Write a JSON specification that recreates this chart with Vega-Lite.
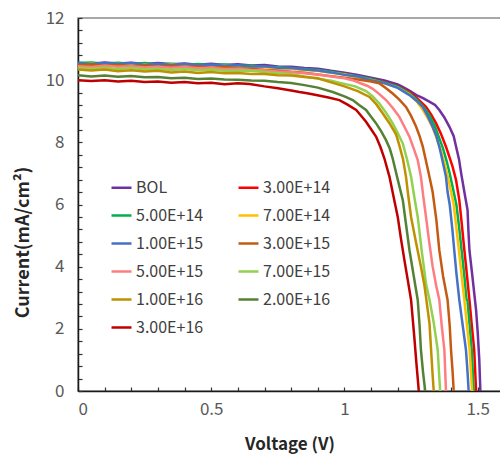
{
"$schema": "https://vega.github.io/schema/vega-lite/v6.json",
"width": 423, "height": 373,
"autosize": {"type": "none"},
"padding": {"left": 78, "top": 18, "right": 0, "bottom": 68},
"background": "white",
"config": {
 "view": {"stroke": "#8c8c8c", "strokeWidth": 1.5},
 "font": "Noto Sans CJK JP",
 "axis": {"grid": false, "domainColor": "#1a1a1a", "domainWidth": 1.5, "tickColor": "#333333", "tickWidth": 1.2, "tickSize": -4, "labelColor": "#595959", "labelFontSize": 17, "labelOverlap": false, "titleFontSize": 17, "titleFontWeight": "bold", "titleColor": "#262626"},
 "legend": {"orient": "none", "direction": "horizontal", "legendX": 32, "legendY": 158, "columns": 2, "columnPadding": 29, "rowPadding": 8, "symbolType": "stroke", "symbolSize": 400, "symbolStrokeWidth": 2.5, "labelFontSize": 16, "labelColor": "#404040", "labelOffset": 3, "title": null}
},
"data": {"values": [
{"s":"BOL","v":0,"i":10.56},{"s":"BOL","v":0.05,"i":10.53},{"s":"BOL","v":0.1,"i":10.57},{"s":"BOL","v":0.15,"i":10.54},{"s":"BOL","v":0.2,"i":10.56},{"s":"BOL","v":0.25,"i":10.52},{"s":"BOL","v":0.3,"i":10.55},{"s":"BOL","v":0.35,"i":10.51},{"s":"BOL","v":0.4,"i":10.54},{"s":"BOL","v":0.45,"i":10.5},{"s":"BOL","v":0.5,"i":10.53},{"s":"BOL","v":0.55,"i":10.49},{"s":"BOL","v":0.6,"i":10.51},{"s":"BOL","v":0.65,"i":10.47},{"s":"BOL","v":0.7,"i":10.49},{"s":"BOL","v":0.75,"i":10.44},{"s":"BOL","v":0.8,"i":10.43},{"s":"BOL","v":0.85,"i":10.39},{"s":"BOL","v":0.9,"i":10.37},{"s":"BOL","v":0.95,"i":10.3},{"s":"BOL","v":1.0,"i":10.24},{"s":"BOL","v":1.05,"i":10.17},{"s":"BOL","v":1.1,"i":10.08},{"s":"BOL","v":1.15,"i":9.99},{"s":"BOL","v":1.2,"i":9.86},{"s":"BOL","v":1.22,"i":9.78},{"s":"BOL","v":1.245,"i":9.66},{"s":"BOL","v":1.27,"i":9.52},{"s":"BOL","v":1.295,"i":9.42},{"s":"BOL","v":1.32,"i":9.3},{"s":"BOL","v":1.34,"i":9.2},{"s":"BOL","v":1.356,"i":9.04},{"s":"BOL","v":1.375,"i":8.8},{"s":"BOL","v":1.394,"i":8.5},{"s":"BOL","v":1.41,"i":8.2},{"s":"BOL","v":1.419,"i":7.86},{"s":"BOL","v":1.43,"i":7.45},{"s":"BOL","v":1.438,"i":7.0},{"s":"BOL","v":1.45,"i":6.4},{"s":"BOL","v":1.462,"i":5.82},{"s":"BOL","v":1.465,"i":5.2},{"s":"BOL","v":1.469,"i":4.53},{"s":"BOL","v":1.48,"i":3.7},{"s":"BOL","v":1.494,"i":2.6},{"s":"BOL","v":1.5,"i":1.9},{"s":"BOL","v":1.506,"i":1.0},{"s":"BOL","v":1.51,"i":0},
{"s":"3.00E+14","v":0,"i":10.52},{"s":"3.00E+14","v":0.05,"i":10.5},{"s":"3.00E+14","v":0.1,"i":10.53},{"s":"3.00E+14","v":0.15,"i":10.49},{"s":"3.00E+14","v":0.2,"i":10.52},{"s":"3.00E+14","v":0.25,"i":10.5},{"s":"3.00E+14","v":0.3,"i":10.51},{"s":"3.00E+14","v":0.35,"i":10.48},{"s":"3.00E+14","v":0.4,"i":10.5},{"s":"3.00E+14","v":0.45,"i":10.47},{"s":"3.00E+14","v":0.5,"i":10.49},{"s":"3.00E+14","v":0.55,"i":10.45},{"s":"3.00E+14","v":0.6,"i":10.47},{"s":"3.00E+14","v":0.65,"i":10.43},{"s":"3.00E+14","v":0.7,"i":10.44},{"s":"3.00E+14","v":0.75,"i":10.4},{"s":"3.00E+14","v":0.8,"i":10.38},{"s":"3.00E+14","v":0.85,"i":10.35},{"s":"3.00E+14","v":0.9,"i":10.31},{"s":"3.00E+14","v":0.95,"i":10.26},{"s":"3.00E+14","v":1.0,"i":10.2},{"s":"3.00E+14","v":1.05,"i":10.12},{"s":"3.00E+14","v":1.1,"i":10.04},{"s":"3.00E+14","v":1.15,"i":9.94},{"s":"3.00E+14","v":1.2,"i":9.8},{"s":"3.00E+14","v":1.244,"i":9.62},{"s":"3.00E+14","v":1.275,"i":9.4},{"s":"3.00E+14","v":1.306,"i":9.14},{"s":"3.00E+14","v":1.325,"i":8.9},{"s":"3.00E+14","v":1.344,"i":8.61},{"s":"3.00E+14","v":1.362,"i":8.28},{"s":"3.00E+14","v":1.381,"i":7.86},{"s":"3.00E+14","v":1.395,"i":7.5},{"s":"3.00E+14","v":1.406,"i":7.21},{"s":"3.00E+14","v":1.419,"i":6.78},{"s":"3.00E+14","v":1.431,"i":6.14},{"s":"3.00E+14","v":1.44,"i":5.4},{"s":"3.00E+14","v":1.45,"i":4.53},{"s":"3.00E+14","v":1.46,"i":3.7},{"s":"3.00E+14","v":1.469,"i":2.93},{"s":"3.00E+14","v":1.478,"i":2.1},{"s":"3.00E+14","v":1.487,"i":1.32},{"s":"3.00E+14","v":1.494,"i":0},
{"s":"5.00E+14","v":0,"i":10.55},{"s":"5.00E+14","v":0.05,"i":10.57},{"s":"5.00E+14","v":0.1,"i":10.53},{"s":"5.00E+14","v":0.15,"i":10.56},{"s":"5.00E+14","v":0.2,"i":10.52},{"s":"5.00E+14","v":0.25,"i":10.55},{"s":"5.00E+14","v":0.3,"i":10.51},{"s":"5.00E+14","v":0.35,"i":10.53},{"s":"5.00E+14","v":0.4,"i":10.49},{"s":"5.00E+14","v":0.45,"i":10.52},{"s":"5.00E+14","v":0.5,"i":10.48},{"s":"5.00E+14","v":0.55,"i":10.5},{"s":"5.00E+14","v":0.6,"i":10.46},{"s":"5.00E+14","v":0.65,"i":10.47},{"s":"5.00E+14","v":0.7,"i":10.43},{"s":"5.00E+14","v":0.75,"i":10.42},{"s":"5.00E+14","v":0.8,"i":10.39},{"s":"5.00E+14","v":0.85,"i":10.36},{"s":"5.00E+14","v":0.9,"i":10.33},{"s":"5.00E+14","v":0.95,"i":10.27},{"s":"5.00E+14","v":1.0,"i":10.2},{"s":"5.00E+14","v":1.05,"i":10.13},{"s":"5.00E+14","v":1.1,"i":10.04},{"s":"5.00E+14","v":1.15,"i":9.93},{"s":"5.00E+14","v":1.2,"i":9.79},{"s":"5.00E+14","v":1.244,"i":9.58},{"s":"5.00E+14","v":1.27,"i":9.38},{"s":"5.00E+14","v":1.3,"i":9.1},{"s":"5.00E+14","v":1.32,"i":8.85},{"s":"5.00E+14","v":1.34,"i":8.5},{"s":"5.00E+14","v":1.355,"i":8.15},{"s":"5.00E+14","v":1.37,"i":7.8},{"s":"5.00E+14","v":1.385,"i":7.35},{"s":"5.00E+14","v":1.395,"i":7.0},{"s":"5.00E+14","v":1.41,"i":6.4},{"s":"5.00E+14","v":1.42,"i":6.0},{"s":"5.00E+14","v":1.43,"i":5.3},{"s":"5.00E+14","v":1.44,"i":4.5},{"s":"5.00E+14","v":1.45,"i":3.7},{"s":"5.00E+14","v":1.458,"i":2.95},{"s":"5.00E+14","v":1.462,"i":2.9},{"s":"5.00E+14","v":1.47,"i":2.1},{"s":"5.00E+14","v":1.478,"i":1.3},{"s":"5.00E+14","v":1.485,"i":0},
{"s":"7.00E+14","v":0,"i":10.5},{"s":"7.00E+14","v":0.05,"i":10.53},{"s":"7.00E+14","v":0.1,"i":10.49},{"s":"7.00E+14","v":0.15,"i":10.52},{"s":"7.00E+14","v":0.2,"i":10.48},{"s":"7.00E+14","v":0.25,"i":10.51},{"s":"7.00E+14","v":0.3,"i":10.47},{"s":"7.00E+14","v":0.35,"i":10.5},{"s":"7.00E+14","v":0.4,"i":10.46},{"s":"7.00E+14","v":0.45,"i":10.48},{"s":"7.00E+14","v":0.5,"i":10.45},{"s":"7.00E+14","v":0.55,"i":10.47},{"s":"7.00E+14","v":0.6,"i":10.43},{"s":"7.00E+14","v":0.65,"i":10.44},{"s":"7.00E+14","v":0.7,"i":10.41},{"s":"7.00E+14","v":0.75,"i":10.39},{"s":"7.00E+14","v":0.8,"i":10.37},{"s":"7.00E+14","v":0.85,"i":10.33},{"s":"7.00E+14","v":0.9,"i":10.3},{"s":"7.00E+14","v":0.95,"i":10.24},{"s":"7.00E+14","v":1.0,"i":10.18},{"s":"7.00E+14","v":1.05,"i":10.1},{"s":"7.00E+14","v":1.1,"i":10.01},{"s":"7.00E+14","v":1.15,"i":9.9},{"s":"7.00E+14","v":1.2,"i":9.76},{"s":"7.00E+14","v":1.244,"i":9.55},{"s":"7.00E+14","v":1.27,"i":9.33},{"s":"7.00E+14","v":1.29,"i":9.1},{"s":"7.00E+14","v":1.31,"i":8.82},{"s":"7.00E+14","v":1.33,"i":8.5},{"s":"7.00E+14","v":1.345,"i":8.15},{"s":"7.00E+14","v":1.36,"i":7.8},{"s":"7.00E+14","v":1.373,"i":7.4},{"s":"7.00E+14","v":1.385,"i":7.0},{"s":"7.00E+14","v":1.398,"i":6.5},{"s":"7.00E+14","v":1.41,"i":6.0},{"s":"7.00E+14","v":1.42,"i":5.25},{"s":"7.00E+14","v":1.43,"i":4.5},{"s":"7.00E+14","v":1.44,"i":3.7},{"s":"7.00E+14","v":1.45,"i":2.93},{"s":"7.00E+14","v":1.46,"i":2.1},{"s":"7.00E+14","v":1.47,"i":1.3},{"s":"7.00E+14","v":1.479,"i":0},
{"s":"1.00E+15","v":0,"i":10.54},{"s":"1.00E+15","v":0.05,"i":10.51},{"s":"1.00E+15","v":0.1,"i":10.55},{"s":"1.00E+15","v":0.15,"i":10.52},{"s":"1.00E+15","v":0.2,"i":10.55},{"s":"1.00E+15","v":0.25,"i":10.5},{"s":"1.00E+15","v":0.3,"i":10.53},{"s":"1.00E+15","v":0.35,"i":10.49},{"s":"1.00E+15","v":0.4,"i":10.52},{"s":"1.00E+15","v":0.45,"i":10.48},{"s":"1.00E+15","v":0.5,"i":10.5},{"s":"1.00E+15","v":0.55,"i":10.46},{"s":"1.00E+15","v":0.6,"i":10.48},{"s":"1.00E+15","v":0.65,"i":10.44},{"s":"1.00E+15","v":0.7,"i":10.45},{"s":"1.00E+15","v":0.75,"i":10.4},{"s":"1.00E+15","v":0.8,"i":10.39},{"s":"1.00E+15","v":0.85,"i":10.34},{"s":"1.00E+15","v":0.9,"i":10.31},{"s":"1.00E+15","v":0.95,"i":10.25},{"s":"1.00E+15","v":1.0,"i":10.17},{"s":"1.00E+15","v":1.05,"i":10.12},{"s":"1.00E+15","v":1.1,"i":10.0},{"s":"1.00E+15","v":1.15,"i":9.91},{"s":"1.00E+15","v":1.2,"i":9.75},{"s":"1.00E+15","v":1.244,"i":9.52},{"s":"1.00E+15","v":1.27,"i":9.34},{"s":"1.00E+15","v":1.294,"i":9.14},{"s":"1.00E+15","v":1.312,"i":8.85},{"s":"1.00E+15","v":1.331,"i":8.5},{"s":"1.00E+15","v":1.345,"i":8.2},{"s":"1.00E+15","v":1.356,"i":7.86},{"s":"1.00E+15","v":1.363,"i":7.6},{"s":"1.00E+15","v":1.372,"i":7.25},{"s":"1.00E+15","v":1.381,"i":6.89},{"s":"1.00E+15","v":1.387,"i":6.4},{"s":"1.00E+15","v":1.395,"i":6.0},{"s":"1.00E+15","v":1.405,"i":5.2},{"s":"1.00E+15","v":1.412,"i":4.53},{"s":"1.00E+15","v":1.42,"i":3.8},{"s":"1.00E+15","v":1.431,"i":2.93},{"s":"1.00E+15","v":1.444,"i":2.1},{"s":"1.00E+15","v":1.456,"i":1.32},{"s":"1.00E+15","v":1.462,"i":0.6},{"s":"1.00E+15","v":1.466,"i":0},
{"s":"3.00E+15","v":0,"i":10.48},{"s":"3.00E+15","v":0.05,"i":10.5},{"s":"3.00E+15","v":0.1,"i":10.46},{"s":"3.00E+15","v":0.15,"i":10.49},{"s":"3.00E+15","v":0.2,"i":10.45},{"s":"3.00E+15","v":0.25,"i":10.47},{"s":"3.00E+15","v":0.3,"i":10.44},{"s":"3.00E+15","v":0.35,"i":10.46},{"s":"3.00E+15","v":0.4,"i":10.42},{"s":"3.00E+15","v":0.45,"i":10.44},{"s":"3.00E+15","v":0.5,"i":10.4},{"s":"3.00E+15","v":0.55,"i":10.42},{"s":"3.00E+15","v":0.6,"i":10.38},{"s":"3.00E+15","v":0.65,"i":10.37},{"s":"3.00E+15","v":0.7,"i":10.33},{"s":"3.00E+15","v":0.75,"i":10.31},{"s":"3.00E+15","v":0.8,"i":10.27},{"s":"3.00E+15","v":0.85,"i":10.24},{"s":"3.00E+15","v":0.9,"i":10.18},{"s":"3.00E+15","v":0.95,"i":10.13},{"s":"3.00E+15","v":1.0,"i":10.08},{"s":"3.00E+15","v":1.05,"i":10.02},{"s":"3.00E+15","v":1.1,"i":9.96},{"s":"3.00E+15","v":1.13,"i":9.9},{"s":"3.00E+15","v":1.155,"i":9.75},{"s":"3.00E+15","v":1.181,"i":9.57},{"s":"3.00E+15","v":1.205,"i":9.38},{"s":"3.00E+15","v":1.231,"i":9.14},{"s":"3.00E+15","v":1.25,"i":8.85},{"s":"3.00E+15","v":1.269,"i":8.5},{"s":"3.00E+15","v":1.282,"i":8.2},{"s":"3.00E+15","v":1.294,"i":7.86},{"s":"3.00E+15","v":1.306,"i":7.4},{"s":"3.00E+15","v":1.319,"i":6.89},{"s":"3.00E+15","v":1.331,"i":6.4},{"s":"3.00E+15","v":1.345,"i":5.5},{"s":"3.00E+15","v":1.356,"i":4.53},{"s":"3.00E+15","v":1.37,"i":3.7},{"s":"3.00E+15","v":1.387,"i":2.93},{"s":"3.00E+15","v":1.395,"i":2.1},{"s":"3.00E+15","v":1.4,"i":1.32},{"s":"3.00E+15","v":1.406,"i":0.6},{"s":"3.00E+15","v":1.41,"i":0},
{"s":"5.00E+15","v":0,"i":10.45},{"s":"5.00E+15","v":0.05,"i":10.42},{"s":"5.00E+15","v":0.1,"i":10.46},{"s":"5.00E+15","v":0.15,"i":10.43},{"s":"5.00E+15","v":0.2,"i":10.45},{"s":"5.00E+15","v":0.25,"i":10.41},{"s":"5.00E+15","v":0.3,"i":10.43},{"s":"5.00E+15","v":0.35,"i":10.4},{"s":"5.00E+15","v":0.4,"i":10.42},{"s":"5.00E+15","v":0.45,"i":10.38},{"s":"5.00E+15","v":0.5,"i":10.4},{"s":"5.00E+15","v":0.55,"i":10.36},{"s":"5.00E+15","v":0.6,"i":10.37},{"s":"5.00E+15","v":0.65,"i":10.33},{"s":"5.00E+15","v":0.7,"i":10.32},{"s":"5.00E+15","v":0.75,"i":10.28},{"s":"5.00E+15","v":0.8,"i":10.26},{"s":"5.00E+15","v":0.85,"i":10.22},{"s":"5.00E+15","v":0.9,"i":10.18},{"s":"5.00E+15","v":0.95,"i":10.12},{"s":"5.00E+15","v":1.0,"i":10.06},{"s":"5.00E+15","v":1.03,"i":10.0},{"s":"5.00E+15","v":1.06,"i":9.9},{"s":"5.00E+15","v":1.085,"i":9.82},{"s":"5.00E+15","v":1.106,"i":9.72},{"s":"5.00E+15","v":1.13,"i":9.56},{"s":"5.00E+15","v":1.156,"i":9.36},{"s":"5.00E+15","v":1.18,"i":9.12},{"s":"5.00E+15","v":1.206,"i":8.82},{"s":"5.00E+15","v":1.225,"i":8.5},{"s":"5.00E+15","v":1.244,"i":8.18},{"s":"5.00E+15","v":1.26,"i":7.8},{"s":"5.00E+15","v":1.275,"i":7.43},{"s":"5.00E+15","v":1.287,"i":6.89},{"s":"5.00E+15","v":1.296,"i":6.25},{"s":"5.00E+15","v":1.306,"i":5.6},{"s":"5.00E+15","v":1.318,"i":4.8},{"s":"5.00E+15","v":1.331,"i":4.0},{"s":"5.00E+15","v":1.344,"i":3.4},{"s":"5.00E+15","v":1.356,"i":2.93},{"s":"5.00E+15","v":1.365,"i":2.1},{"s":"5.00E+15","v":1.375,"i":1.32},{"s":"5.00E+15","v":1.381,"i":0},
{"s":"7.00E+15","v":0,"i":10.4},{"s":"7.00E+15","v":0.05,"i":10.37},{"s":"7.00E+15","v":0.1,"i":10.4},{"s":"7.00E+15","v":0.15,"i":10.36},{"s":"7.00E+15","v":0.2,"i":10.39},{"s":"7.00E+15","v":0.25,"i":10.35},{"s":"7.00E+15","v":0.3,"i":10.37},{"s":"7.00E+15","v":0.35,"i":10.33},{"s":"7.00E+15","v":0.4,"i":10.36},{"s":"7.00E+15","v":0.45,"i":10.32},{"s":"7.00E+15","v":0.5,"i":10.34},{"s":"7.00E+15","v":0.55,"i":10.3},{"s":"7.00E+15","v":0.6,"i":10.31},{"s":"7.00E+15","v":0.65,"i":10.3},{"s":"7.00E+15","v":0.7,"i":10.26},{"s":"7.00E+15","v":0.75,"i":10.22},{"s":"7.00E+15","v":0.8,"i":10.19},{"s":"7.00E+15","v":0.85,"i":10.12},{"s":"7.00E+15","v":0.9,"i":10.05},{"s":"7.00E+15","v":0.95,"i":9.98},{"s":"7.00E+15","v":1.0,"i":9.88},{"s":"7.00E+15","v":1.04,"i":9.8},{"s":"7.00E+15","v":1.081,"i":9.65},{"s":"7.00E+15","v":1.106,"i":9.48},{"s":"7.00E+15","v":1.131,"i":9.25},{"s":"7.00E+15","v":1.156,"i":8.95},{"s":"7.00E+15","v":1.181,"i":8.61},{"s":"7.00E+15","v":1.2,"i":8.3},{"s":"7.00E+15","v":1.219,"i":7.96},{"s":"7.00E+15","v":1.235,"i":7.45},{"s":"7.00E+15","v":1.25,"i":6.89},{"s":"7.00E+15","v":1.262,"i":6.25},{"s":"7.00E+15","v":1.275,"i":5.6},{"s":"7.00E+15","v":1.29,"i":4.5},{"s":"7.00E+15","v":1.306,"i":3.46},{"s":"7.00E+15","v":1.32,"i":2.9},{"s":"7.00E+15","v":1.335,"i":2.2},{"s":"7.00E+15","v":1.35,"i":1.32},{"s":"7.00E+15","v":1.359,"i":0},
{"s":"1.00E+16","v":0,"i":10.34},{"s":"1.00E+16","v":0.05,"i":10.31},{"s":"1.00E+16","v":0.1,"i":10.34},{"s":"1.00E+16","v":0.15,"i":10.29},{"s":"1.00E+16","v":0.2,"i":10.32},{"s":"1.00E+16","v":0.25,"i":10.28},{"s":"1.00E+16","v":0.3,"i":10.3},{"s":"1.00E+16","v":0.35,"i":10.25},{"s":"1.00E+16","v":0.4,"i":10.28},{"s":"1.00E+16","v":0.45,"i":10.23},{"s":"1.00E+16","v":0.5,"i":10.26},{"s":"1.00E+16","v":0.55,"i":10.22},{"s":"1.00E+16","v":0.6,"i":10.23},{"s":"1.00E+16","v":0.65,"i":10.2},{"s":"1.00E+16","v":0.7,"i":10.2},{"s":"1.00E+16","v":0.75,"i":10.16},{"s":"1.00E+16","v":0.8,"i":10.15},{"s":"1.00E+16","v":0.85,"i":10.1},{"s":"1.00E+16","v":0.9,"i":10.06},{"s":"1.00E+16","v":0.95,"i":9.93},{"s":"1.00E+16","v":1.0,"i":9.8},{"s":"1.00E+16","v":1.05,"i":9.65},{"s":"1.00E+16","v":1.094,"i":9.46},{"s":"1.00E+16","v":1.12,"i":9.22},{"s":"1.00E+16","v":1.144,"i":8.93},{"s":"1.00E+16","v":1.17,"i":8.6},{"s":"1.00E+16","v":1.194,"i":8.25},{"s":"1.00E+16","v":1.206,"i":7.9},{"s":"1.00E+16","v":1.22,"i":7.45},{"s":"1.00E+16","v":1.231,"i":6.89},{"s":"1.00E+16","v":1.24,"i":6.25},{"s":"1.00E+16","v":1.25,"i":5.6},{"s":"1.00E+16","v":1.268,"i":4.8},{"s":"1.00E+16","v":1.287,"i":4.0},{"s":"1.00E+16","v":1.3,"i":3.4},{"s":"1.00E+16","v":1.306,"i":3.03},{"s":"1.00E+16","v":1.319,"i":2.18},{"s":"1.00E+16","v":1.326,"i":1.2},{"s":"1.00E+16","v":1.331,"i":0.5},{"s":"1.00E+16","v":1.335,"i":0},
{"s":"2.00E+16","v":0,"i":10.16},{"s":"2.00E+16","v":0.05,"i":10.12},{"s":"2.00E+16","v":0.1,"i":10.15},{"s":"2.00E+16","v":0.15,"i":10.11},{"s":"2.00E+16","v":0.2,"i":10.13},{"s":"2.00E+16","v":0.25,"i":10.09},{"s":"2.00E+16","v":0.3,"i":10.1},{"s":"2.00E+16","v":0.35,"i":10.06},{"s":"2.00E+16","v":0.4,"i":10.08},{"s":"2.00E+16","v":0.45,"i":10.04},{"s":"2.00E+16","v":0.5,"i":10.05},{"s":"2.00E+16","v":0.55,"i":10.02},{"s":"2.00E+16","v":0.6,"i":10.01},{"s":"2.00E+16","v":0.65,"i":9.99},{"s":"2.00E+16","v":0.7,"i":9.98},{"s":"2.00E+16","v":0.75,"i":9.94},{"s":"2.00E+16","v":0.8,"i":9.91},{"s":"2.00E+16","v":0.85,"i":9.84},{"s":"2.00E+16","v":0.9,"i":9.76},{"s":"2.00E+16","v":0.956,"i":9.62},{"s":"2.00E+16","v":1.0,"i":9.48},{"s":"2.00E+16","v":1.031,"i":9.36},{"s":"2.00E+16","v":1.055,"i":9.2},{"s":"2.00E+16","v":1.081,"i":9.04},{"s":"2.00E+16","v":1.1,"i":8.82},{"s":"2.00E+16","v":1.119,"i":8.61},{"s":"2.00E+16","v":1.138,"i":8.35},{"s":"2.00E+16","v":1.156,"i":8.07},{"s":"2.00E+16","v":1.17,"i":7.8},{"s":"2.00E+16","v":1.181,"i":7.48},{"s":"2.00E+16","v":1.2,"i":6.8},{"s":"2.00E+16","v":1.219,"i":6.14},{"s":"2.00E+16","v":1.232,"i":5.3},{"s":"2.00E+16","v":1.244,"i":4.53},{"s":"2.00E+16","v":1.26,"i":3.7},{"s":"2.00E+16","v":1.275,"i":2.93},{"s":"2.00E+16","v":1.282,"i":2.1},{"s":"2.00E+16","v":1.287,"i":1.32},{"s":"2.00E+16","v":1.295,"i":0.6},{"s":"2.00E+16","v":1.303,"i":0},
{"s":"3.00E+16","v":0,"i":10.0},{"s":"3.00E+16","v":0.05,"i":9.97},{"s":"3.00E+16","v":0.1,"i":10.0},{"s":"3.00E+16","v":0.15,"i":9.96},{"s":"3.00E+16","v":0.2,"i":9.98},{"s":"3.00E+16","v":0.25,"i":9.94},{"s":"3.00E+16","v":0.3,"i":9.96},{"s":"3.00E+16","v":0.35,"i":9.92},{"s":"3.00E+16","v":0.4,"i":9.94},{"s":"3.00E+16","v":0.45,"i":9.9},{"s":"3.00E+16","v":0.5,"i":9.92},{"s":"3.00E+16","v":0.55,"i":9.87},{"s":"3.00E+16","v":0.6,"i":9.9},{"s":"3.00E+16","v":0.644,"i":9.88},{"s":"3.00E+16","v":0.7,"i":9.8},{"s":"3.00E+16","v":0.75,"i":9.74},{"s":"3.00E+16","v":0.8,"i":9.67},{"s":"3.00E+16","v":0.831,"i":9.62},{"s":"3.00E+16","v":0.86,"i":9.58},{"s":"3.00E+16","v":0.894,"i":9.52},{"s":"3.00E+16","v":0.94,"i":9.44},{"s":"3.00E+16","v":0.981,"i":9.36},{"s":"3.00E+16","v":1.01,"i":9.22},{"s":"3.00E+16","v":1.044,"i":9.04},{"s":"3.00E+16","v":1.06,"i":8.88},{"s":"3.00E+16","v":1.081,"i":8.66},{"s":"3.00E+16","v":1.1,"i":8.42},{"s":"3.00E+16","v":1.119,"i":8.18},{"s":"3.00E+16","v":1.135,"i":7.85},{"s":"3.00E+16","v":1.15,"i":7.48},{"s":"3.00E+16","v":1.169,"i":6.89},{"s":"3.00E+16","v":1.187,"i":6.14},{"s":"3.00E+16","v":1.2,"i":5.6},{"s":"3.00E+16","v":1.212,"i":4.9},{"s":"3.00E+16","v":1.225,"i":4.21},{"s":"3.00E+16","v":1.238,"i":3.55},{"s":"3.00E+16","v":1.25,"i":2.93},{"s":"3.00E+16","v":1.262,"i":1.75},{"s":"3.00E+16","v":1.27,"i":0.9},{"s":"3.00E+16","v":1.279,"i":0}
]},
"mark": {"type": "line", "strokeWidth": 2.5},
"encoding": {
 "x": {"field": "v", "type": "quantitative", "scale": {"domain": [0, 1.5875], "nice": false, "zero": false},
  "axis": {"title": "Voltage (V)", "values": [0,0.1,0.2,0.3,0.4,0.5,0.6,0.7,0.8,0.9,1,1.1,1.2,1.3,1.4,1.5], "format": ".1~f", "labelExpr": "abs(datum.value*2 - round(datum.value*2)) < 0.001 ? datum.label : ''", "labelPadding": 14, "titleY": 58, "titleBaseline": "alphabetic"}},
 "y": {"field": "i", "type": "quantitative", "scale": {"domain": [0, 12], "nice": false},
  "axis": {"title": "Current(mA/cm²)", "values": [0,0.4,0.8,1.2,1.6,2,2.4,2.8,3.2,3.6,4,4.4,4.8,5.2,5.6,6,6.4,6.8,7.2,7.6,8,8.4,8.8,9.2,9.6,10,10.4,10.8,11.2,11.6,12], "format": ".1~f", "labelExpr": "datum.value % 2 == 0 ? datum.label : ''", "labelPadding": 18, "titleFontSize": 18, "titleAlign": "center", "titleX": -50, "titleY": 224, "titleAngle": 270, "titleBaseline": "alphabetic"}},
 "color": {"field": "s", "type": "nominal", "sort": ["BOL","3.00E+14","5.00E+14","7.00E+14","1.00E+15","3.00E+15","5.00E+15","7.00E+15","1.00E+16","2.00E+16","3.00E+16"],
  "scale": {"domain": ["BOL","3.00E+14","5.00E+14","7.00E+14","1.00E+15","3.00E+15","5.00E+15","7.00E+15","1.00E+16","2.00E+16","3.00E+16"], "range": ["#7030A0","#FF0000","#00B050","#FFC000","#4472C4","#C55A11","#FF7C80","#92D050","#BF9000","#548235","#C00000"]}}
}
}
